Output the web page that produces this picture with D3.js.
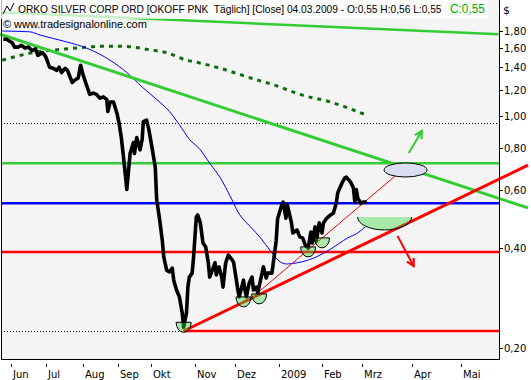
<!DOCTYPE html>
<html><head><meta charset="utf-8">
<script src="https://cdn.jsdelivr.net/npm/d3@7"></script>
<style>body{margin:0;background:#fff}svg{display:block}text{font-family:"DejaVu Sans",Verdana,sans-serif;white-space:pre}</style>
</head><body><svg id="c" width="531" height="380"></svg>
<script>
// ---------------- data ----------------
const monthLabels = ["Jun","Jul","Aug","Sep","Okt","Nov","Dez","2009","Feb","Mrz","Apr","Mai"];
const monthDates = ["2008-06-01","2008-07-01","2008-08-01","2008-09-01","2008-10-01","2008-11-01","2008-12-01","2009-01-01","2009-02-01","2009-03-01","2009-04-01","2009-05-01"];
const priceTicks = [0.2,0.4,0.6,0.8,1.0,1.2,1.4,1.6,1.8];

const closeDates = ["2008-05-25","2008-05-28","2008-06-02","2008-06-04","2008-06-07","2008-06-10","2008-06-13","2008-06-16","2008-06-19","2008-06-22","2008-06-24","2008-06-28","2008-06-30",
"2008-07-01","2008-07-04","2008-07-07","2008-07-10","2008-07-12","2008-07-14","2008-07-17","2008-07-19","2008-07-23","2008-07-25","2008-07-28","2008-07-30",
"2008-08-01","2008-08-04","2008-08-07","2008-08-10","2008-08-13","2008-08-16","2008-08-19","2008-08-22","2008-08-23","2008-08-25","2008-08-28","2008-08-31",
"2008-09-02","2008-09-04","2008-09-06","2008-09-08","2008-09-09","2008-09-12","2008-09-15","2008-09-16","2008-09-18","2008-09-21","2008-09-23","2008-09-24","2008-09-27","2008-09-29",
"2008-10-02","2008-10-04","2008-10-05","2008-10-07","2008-10-09","2008-10-10","2008-10-12","2008-10-14","2008-10-16","2008-10-17","2008-10-19","2008-10-21","2008-10-23","2008-10-24","2008-10-26","2008-10-27","2008-10-28","2008-10-30","2008-10-31",
"2008-11-02","2008-11-03","2008-11-05","2008-11-07","2008-11-09","2008-11-11","2008-11-12","2008-11-14","2008-11-16","2008-11-17","2008-11-19","2008-11-21","2008-11-22","2008-11-24","2008-11-26","2008-11-29","2008-11-30",
"2008-12-02","2008-12-03","2008-12-04","2008-12-07","2008-12-08","2008-12-09","2008-12-11","2008-12-13","2008-12-14","2008-12-16","2008-12-17","2008-12-19","2008-12-21","2008-12-23","2008-12-24","2008-12-27","2008-12-28","2008-12-30","2008-12-31",
"2009-01-03","2009-01-04","2009-01-06","2009-01-07","2009-01-10","2009-01-11","2009-01-14","2009-01-16","2009-01-18","2009-01-20","2009-01-22","2009-01-24","2009-01-25","2009-01-27","2009-01-28","2009-01-30",
"2009-02-01","2009-02-02","2009-02-04","2009-02-07","2009-02-09","2009-02-11","2009-02-12","2009-02-15","2009-02-17","2009-02-18","2009-02-21","2009-02-23","2009-02-24","2009-02-25","2009-02-26","2009-02-28",
"2009-03-02","2009-03-04"];
const closeValues = [1.70,1.70,1.66,1.61,1.61,1.63,1.60,1.61,1.57,1.59,1.52,1.55,1.52,
1.50,1.40,1.39,1.37,1.40,1.35,1.39,1.37,1.26,1.28,1.30,1.42,
1.33,1.24,1.16,1.17,1.16,1.13,1.14,1.12,1.03,1.10,1.10,1.02,
0.95,0.86,0.75,0.65,0.60,0.77,0.83,0.77,0.86,0.79,0.85,0.96,0.97,0.91,
0.79,0.70,0.56,0.49,0.42,0.376,0.343,0.339,0.348,0.320,0.299,0.285,0.255,0.231,0.255,0.305,0.327,0.336,0.376,
0.496,0.503,0.476,0.414,0.403,0.361,0.327,0.343,0.361,0.332,0.351,0.327,0.305,0.361,0.381,0.368,0.361,
0.320,0.299,0.285,0.320,0.299,0.285,0.314,0.327,0.299,0.305,0.293,0.320,0.351,0.325,0.336,0.336,0.361,0.42,0.49,
0.539,0.550,0.492,0.539,0.476,0.444,0.453,0.432,0.429,0.408,0.400,0.447,0.414,0.463,0.42,0.476,
0.444,0.476,0.49,0.503,0.510,0.546,0.586,0.628,0.650,0.654,0.632,0.606,0.550,0.60,0.566,0.546,
0.550,0.55];

const maFastDates = ["2008-05-24","2008-06-17","2008-06-26","2008-07-18","2008-08-04","2008-08-25","2008-09-09","2008-09-23","2008-10-05","2008-10-14","2008-10-21","2008-10-28","2008-11-05","2008-11-12","2008-11-20","2008-11-27","2008-12-04","2008-12-12","2008-12-19","2008-12-26","2009-01-02","2009-01-07","2009-01-14","2009-01-26","2009-02-07","2009-02-19","2009-02-26","2009-03-03"];
const maFastValues = [1.80,1.79,1.75,1.67,1.60,1.47,1.35,1.22,1.12,1.03,0.94,0.85,0.79,0.72,0.65,0.577,0.506,0.463,0.429,0.392,0.363,0.358,0.361,0.373,0.397,0.429,0.444,0.463];

const maSlowDates = ["2008-05-24","2008-06-20","2008-07-18","2008-08-04","2008-08-16","2008-08-31","2008-09-15","2008-09-30","2008-10-12","2008-10-26","2008-11-02","2008-11-20","2008-12-12","2009-01-02","2009-01-16","2009-02-07","2009-03-05"];
const maSlowValues = [1.47,1.55,1.59,1.61,1.62,1.62,1.61,1.58,1.55,1.47,1.45,1.39,1.30,1.22,1.16,1.10,1.00];

// horizontal levels
const levelGreen = 0.72, levelBlue = 0.545, levelRed = 0.389, levelRedLow = 0.225, levelDotted = 0.95;
// trend lines: [startDate, startPrice, endDate, endPrice]
const trendTopGreen = ["2008-05-22",2.05,"2009-05-24",1.76];
const trendDownGreen = ["2008-05-22",1.76,"2009-06-11",0.528];
const trendUpRed = ["2008-10-24",0.225,"2009-06-11",0.71];
const trendThinRed = ["2008-12-11",0.279,"2009-03-23",0.668];
// lows marked with half circles
const lowDates = ["2008-10-24","2008-12-07","2008-12-18","2009-01-22","2009-02-01"];
const lowValues = [0.239,0.285,0.291,0.403,0.429];
// annotations
const targetUp = ["2009-03-28",0.687];
const targetDown = ["2009-03-15",0.496];
const arrowUp = ["2009-03-30",0.773,"2009-04-07",0.90];
const arrowDown = ["2009-03-23",0.435,"2009-04-02",0.353];

const titleText = "ORKO SILVER CORP ORD [OKOFF PNK  Täglich] [Close] 04.03.2009 - O:0,55 H:0,56 L:0,55";
const closeText = "C:0,55";
const creditText = "© www.tradesignalonline.com";

// ---------------- chart ----------------
const P = d3.timeParse("%Y-%m-%d");
const svg = d3.select("#c");
const W = 531, H = 380, L = 1, R = 499, T = 0, B = 359;

const x = d3.scaleTime()
  .domain([P("2008-05-22"), ...monthDates.map(P), P("2009-06-11")])
  .range([0, 11, 46, 83, 118, 151, 195, 235, 279, 322, 362, 412, 461, 528]);
const y = d3.scaleLog().domain([0.2, 1.8]).range([348, 348 - 144.27 * Math.log(9)]);

svg.append("rect").attr("width", W).attr("height", H).attr("fill", "#fff");
svg.append("rect").attr("x", L).attr("y", T).attr("width", R - L).attr("height", B - T).attr("fill", "#f4f4f4");

svg.append("defs").append("clipPath").attr("id", "clip")
  .append("rect").attr("x", L).attr("y", T).attr("width", R - L).attr("height", B - T);
const g = svg.append("g").attr("clip-path", "url(#clip)");
const gFree = svg.append("g");
const g2 = svg.append("g").attr("clip-path", "url(#clip)");

// dotted levels
g.append("line").attr("x1", L).attr("x2", R).attr("y1", Math.round(y(levelDotted)) + 0.5).attr("y2", Math.round(y(levelDotted)) + 0.5)
  .attr("stroke", "#000").attr("stroke-dasharray", "1,2");
g.append("line").attr("x1", L).attr("x2", x(P("2008-10-24"))).attr("y1", Math.round(y(levelRedLow)) + 0.5).attr("y2", Math.round(y(levelRedLow)) + 0.5)
  .attr("stroke", "#000").attr("stroke-dasharray", "1,2");

function hline(v, color, w, x1) {
  g.append("line").attr("x1", x1 == null ? L : x1).attr("x2", R).attr("y1", y(v)).attr("y2", y(v))
    .attr("stroke", color).attr("stroke-width", w);
}
hline(levelGreen, "#33cc33", 2.5);
hline(levelBlue, "#0000ff", 2.5);
hline(levelRed, "#ff0000", 2.5);
hline(levelRedLow, "#ff0000", 2.5, x(P("2008-10-24")));

function tline(parent, t, color, w) {
  parent.append("line").attr("x1", x(P(t[0]))).attr("y1", y(t[1])).attr("x2", x(P(t[2]))).attr("y2", y(t[3]))
    .attr("stroke", color).attr("stroke-width", w);
}
tline(g, trendTopGreen, "#33cc33", 2.5);

// moving averages
g.append("path").datum(maSlowDates.map((d, i) => [P(d), maSlowValues[i]]))
  .attr("d", d3.line().x(d => x(d[0])).y(d => y(d[1])).curve(d3.curveMonotoneX)).attr("fill", "none").attr("stroke", "#0b6b0b")
  .attr("stroke-width", 3).attr("stroke-dasharray", "4,5");
g.append("path").datum(maFastDates.map((d, i) => [P(d), maFastValues[i]]))
  .attr("d", d3.line().x(d => x(d[0])).y(d => y(d[1])).curve(d3.curveMonotoneX))
  .attr("fill", "none").attr("stroke", "#0000ff").attr("stroke-width", 1);

tline(gFree, trendDownGreen, "#33cc33", 3);
tline(gFree, trendUpRed, "#ff0000", 3);
tline(g2, trendThinRed, "#ff0000", 1);

// price
g2.append("path").datum(closeDates.map((d, i) => [P(d), closeValues[i]]))
  .attr("d", d3.line().x(d => x(d[0])).y(d => y(d[1])))
  .attr("fill", "none").attr("stroke", "#000").attr("stroke-width", 3.6).attr("stroke-linejoin", "round");

// half circles at lows
const halfArc = (rx, ry) => `M${-rx},0 A${rx},${ry} 0 0 0 ${rx},0 Z`;
g2.selectAll(".low").data(lowDates.map((d, i) => [P(d), lowValues[i]])).join("path")
  .attr("transform", d => `translate(${x(d[0])},${y(d[1])})`)
  .attr("d", halfArc(7.5, 10))
  .attr("fill", "rgba(62,214,62,0.42)").attr("stroke", "#000").attr("stroke-width", 1);

// target annotations
g2.append("ellipse").attr("cx", x(P(targetUp[0]))).attr("cy", y(targetUp[1])).attr("rx", 21.5).attr("ry", 7)
  .attr("fill", "#dcdcf2").attr("stroke", "#000").attr("stroke-width", 1);
const tdx = x(P(targetDown[0])), tdy = y(targetDown[1]);
g2.append("path").attr("transform", `translate(${tdx},${tdy})`).attr("d", `M-27,0 A27,13 0 0 0 27,0 Z`)
  .attr("fill", "rgba(62,214,62,0.42)").attr("stroke", "none");
g2.append("path").attr("transform", `translate(${tdx},${tdy})`).attr("d", `M-27,0 A27,13 0 0 0 27,0`)
  .attr("fill", "none").attr("stroke", "#000").attr("stroke-width", 1);

function arrow(a, color) {
  const x1 = x(P(a[0])), y1 = y(a[1]), x2 = x(P(a[2])), y2 = y(a[3]);
  const ang = Math.atan2(y2 - y1, x2 - x1), len = 8;
  g2.append("line").attr("x1", x1).attr("y1", y1).attr("x2", x2).attr("y2", y2).attr("stroke", color).attr("stroke-width", 2);
  g2.append("path").attr("d", `M${x2 - len * Math.cos(ang - 0.5)},${y2 - len * Math.sin(ang - 0.5)} L${x2},${y2} L${x2 - len * Math.cos(ang + 0.5)},${y2 - len * Math.sin(ang + 0.5)}`)
    .attr("fill", "none").attr("stroke", color).attr("stroke-width", 2.2);
}
arrow(arrowUp, "#33cc33");
arrow(arrowDown, "#ff0000");

// frame
svg.append("line").attr("x1", L + 0.5).attr("x2", L + 0.5).attr("y1", T).attr("y2", B + 0.5).attr("stroke", "#000");
svg.append("line").attr("x1", L).attr("x2", R + 0.5).attr("y1", B + 0.5).attr("y2", B + 0.5).attr("stroke", "#000");
svg.append("line").attr("x1", R + 0.5).attr("x2", R + 0.5).attr("y1", T).attr("y2", B + 1).attr("stroke", "#000");

// right axis
const fmt = v => d3.format(".2f")(v).replace(".", ",");
const ya = svg.append("g");
priceTicks.forEach(v => {
  const yy = Math.round(y(v)) + 0.5;
  ya.append("line").attr("x1", R + 1).attr("x2", R + 4).attr("y1", yy).attr("y2", yy).attr("stroke", "#000");
  ya.append("text").attr("x", R + 5).attr("y", yy).attr("dy", "0.36em").attr("font-size", 10).attr("fill", "#000").text(fmt(v));
});
svg.append("text").attr("x", 503).attr("y", 14).attr("font-size", 11).text("$");

// bottom axis
monthDates.forEach((d, i) => {
  const xx = Math.round(x(P(d))) + 0.5;
  svg.append("line").attr("x1", xx).attr("x2", xx).attr("y1", 364).attr("y2", 367).attr("stroke", "#000");
  svg.append("text").attr("x", xx + 1.5).attr("y", 377.5).attr("font-size", 10).text(monthLabels[i]);
});

// title (font size fitted to the available width)
function fitText(sel, width) {
  const n = sel.node().getComputedTextLength();
  sel.attr("font-size", 10 * width / n);
}
svg.append("rect").attr("x", 0).attr("y", 0).attr("width", 488).attr("height", 19).attr("fill", "#fff").attr("opacity", 0.72);
svg.append("path").attr("d", "M3,14 L7,6 L10,11 L14,3").attr("fill", "none").attr("stroke", "#000").attr("stroke-width", 1);
const t1 = svg.append("text").attr("x", 18).attr("y", 13).attr("font-size", 10)
  .style("font-family", "'Liberation Sans', Arial, sans-serif").text(titleText);
fitText(t1, 424);
const t2 = svg.append("text").attr("x", 450).attr("y", 13).attr("font-size", 10).attr("fill", "#00b400")
  .style("font-family", "'Liberation Sans', Arial, sans-serif").text(closeText);
fitText(t2, 35);
const t3 = svg.append("text").attr("x", 3).attr("y", 28).attr("font-size", 10)
  .style("font-family", "'Liberation Sans', Arial, sans-serif").text(creditText);
fitText(t3, 144);
</script></body></html>
